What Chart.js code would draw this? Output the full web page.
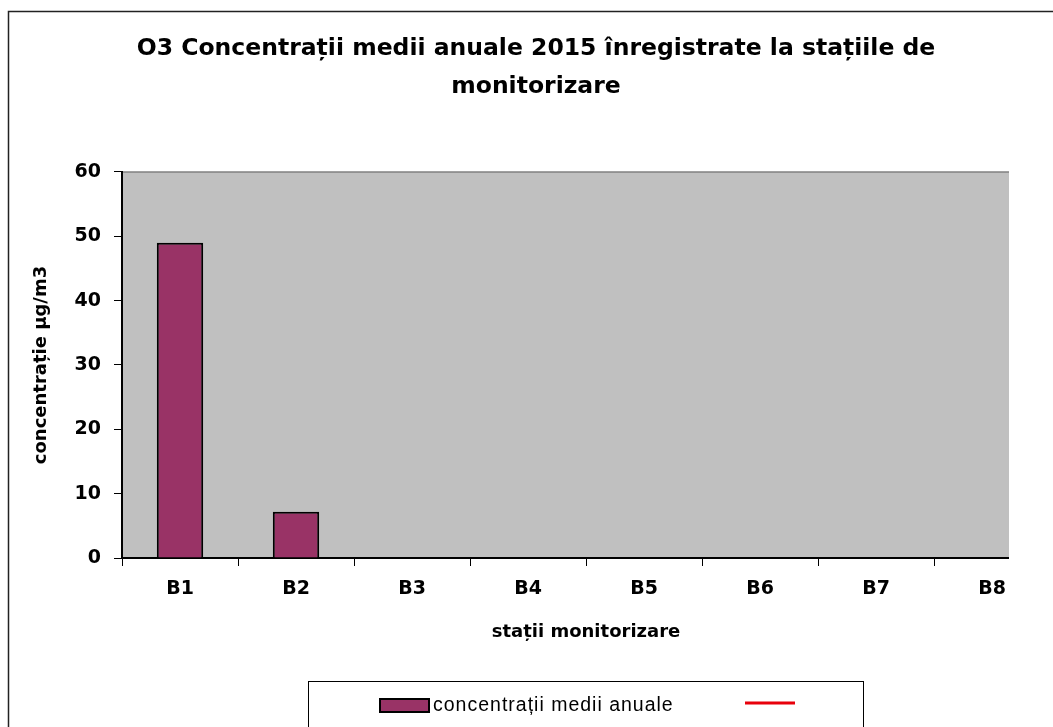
<!DOCTYPE html>
<html>
<head>
<meta charset="utf-8">
<title>O3 concentrații medii anuale 2015</title>
<script src="https://cdn.jsdelivr.net/npm/chart.js@4.4.1/dist/chart.umd.min.js"></script>
<style>
  html, body { margin: 0; padding: 0; background: #fff; }
  #wrap { position: relative; width: 1053px; height: 727px; overflow: hidden; }
  #wrap canvas { position: absolute; left: 0; top: 0; }
</style>
</head>
<body>
<div id="wrap"><canvas id="chart" width="1130" height="727"></canvas></div>
<script>
// stații de monitorizare și concentrațiile medii anuale O3 (µg/m3)
const statii = ['B1', 'B2', 'B3', 'B4', 'B5', 'B6', 'B7', 'B8'];
const concentratii = [49, 7.2, null, null, null, null, null, null];
// seria pentru valoarea limită (fără valori în 2015)
const valoriLimita = [];
// axa Y
const yMin = 0;
const yMax = 60;
const yPas = 10;

const FONT = '"DejaVu Sans", Verdana, sans-serif';
const LEGEND_FONT = '"Liberation Sans", Arial, sans-serif';

// fundal, chenarul exterior și zona gri a graficului
const chartFrame = {
    id: 'chartFrame',
    beforeDraw(chart) {
        const {ctx, chartArea: a, width, height} = chart;
        ctx.save();
        ctx.fillStyle = '#fff';
        ctx.fillRect(0, 0, width, height);
        ctx.strokeStyle = '#222';
        ctx.lineWidth = 1.5;
        ctx.beginPath();
        ctx.moveTo(8.5, height);
        ctx.lineTo(8.5, 11.5);
        ctx.lineTo(width, 11.5);
        ctx.stroke();
        ctx.fillStyle = '#c0c0c0';
        ctx.fillRect(a.left, a.top, a.right - a.left, a.bottom - a.top);
        ctx.strokeStyle = '#808080';
        ctx.lineWidth = 1.5;
        ctx.beginPath();
        ctx.moveTo(a.left, a.top);
        ctx.lineTo(a.right, a.top);
        ctx.stroke();
        ctx.restore();
    }
};

// marginea din dreapta a imaginii taie ultima categorie
const cropRight = {
    id: 'cropRight',
    afterDraw(chart) {
        const {ctx, width, height} = chart;
        ctx.save();
        ctx.fillStyle = '#fff';
        ctx.fillRect(1009, 13, width - 1009, height - 13);
        ctx.restore();
    }
};

// legenda într-un chenar, sub axa X
const legendBox = {
    id: 'legendBox',
    afterDraw(chart) {
        const ctx = chart.ctx;
        const [bars, limita] = chart.data.datasets;
        ctx.save();
        ctx.strokeStyle = '#000';
        ctx.lineWidth = 1;
        ctx.strokeRect(308.5, 681.5, 555, 100);

        ctx.fillStyle = bars.backgroundColor;
        ctx.fillRect(379, 698, 51, 15);
        ctx.strokeStyle = bars.borderColor;
        ctx.lineWidth = 2;
        ctx.strokeRect(380, 699, 49, 13);

        ctx.fillStyle = '#000';
        ctx.font = '19.5px ' + LEGEND_FONT;
        ctx.letterSpacing = '1px';
        ctx.textBaseline = 'middle';
        ctx.fillText(bars.label, 433, 706);

        ctx.strokeStyle = limita.borderColor;
        ctx.lineWidth = 3;
        ctx.beginPath();
        ctx.moveTo(745, 703);
        ctx.lineTo(795, 703);
        ctx.stroke();
        ctx.restore();
    }
};

new Chart(document.getElementById('chart'), {
    type: 'bar',
    data: {
        labels: statii,
        datasets: [
            {
                label: 'concentrații medii anuale',
                data: concentratii,
                backgroundColor: '#993366',
                borderColor: '#000',
                borderWidth: 2,
                barPercentage: 0.4,
                categoryPercentage: 1.0
            },
            {
                type: 'line',
                label: '',
                data: valoriLimita,
                borderColor: '#e8000b',
                borderWidth: 3,
                pointRadius: 0
            }
        ]
    },
    options: {
        responsive: false,
        animation: false,
        layout: {
            padding: { left: 22, right: 80, top: 0, bottom: 0 }
        },
        plugins: {
            legend: { display: false },
            tooltip: { enabled: false },
            title: {
                display: true,
                text: ['O3 Concentrații medii anuale 2015 înregistrate la stațiile de', 'monitorizare'],
                color: '#000',
                font: { family: FONT, size: 23.5, weight: 'bold', lineHeight: 1.617 },
                padding: { top: 30, bottom: 66 }
            }
        },
        scales: {
            x: {
                offset: true,
                grid: {
                    offset: true,
                    drawOnChartArea: false,
                    tickLength: 8,
                    color: '#000',
                    tickColor: '#000'
                },
                border: { color: '#000', width: 2 },
                ticks: {
                    color: '#000',
                    padding: 12,
                    font: { family: FONT, size: 19, weight: 'bold' }
                },
                title: {
                    display: true,
                    text: 'stații monitorizare',
                    color: '#000',
                    font: { family: FONT, size: 18, weight: 'bold' },
                    padding: { top: 0, bottom: 84 }
                },
                afterFit(scale) {
                    scale.height = 169;
                }
            },
            y: {
                min: yMin,
                max: yMax,
                grid: {
                    drawOnChartArea: false,
                    tickLength: 8,
                    color: '#000',
                    tickColor: '#000'
                },
                border: { color: '#000', width: 2 },
                ticks: {
                    stepSize: yPas,
                    color: '#000',
                    padding: 13,
                    font: { family: FONT, size: 19, weight: 'bold' }
                },
                title: {
                    display: true,
                    text: 'concentrație µg/m3',
                    color: '#000',
                    font: { family: FONT, size: 18, weight: 'bold' },
                    padding: { top: 9, bottom: 0 }
                },
                afterFit(scale) {
                    scale.width = 100;
                }
            }
        }
    },
    plugins: [chartFrame, cropRight, legendBox]
});
</script>
</body>
</html>
